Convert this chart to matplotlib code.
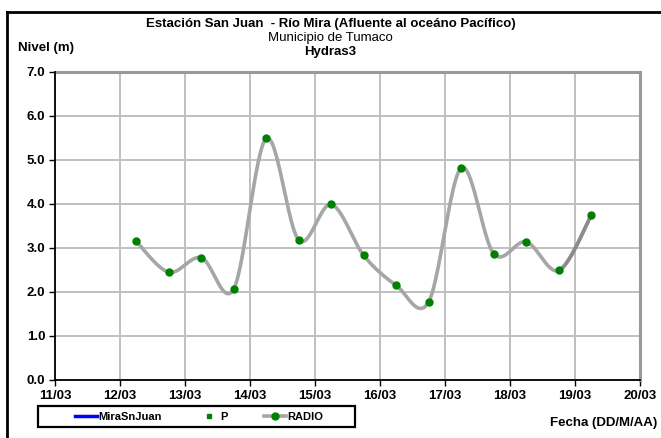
import numpy as np
import pandas as pd
import matplotlib
matplotlib.use('Agg')
import matplotlib.pyplot as plt
import matplotlib.dates as mdates
from matplotlib.patches import Rectangle
from matplotlib.lines import Line2D

plt.rcParams['font.family'] = ['Liberation Sans', 'DejaVu Sans']

# ---- data ----
fechas = ['2011-03-12 06:00', '2011-03-12 18:00', '2011-03-13 06:00', '2011-03-13 18:00',
          '2011-03-14 06:00', '2011-03-14 18:00', '2011-03-15 06:00', '2011-03-15 18:00',
          '2011-03-16 06:00', '2011-03-16 18:00', '2011-03-17 06:00', '2011-03-17 18:00',
          '2011-03-18 06:00', '2011-03-18 18:00', '2011-03-19 06:00']
nivel = [3.15, 2.45, 2.78, 2.07, 5.49, 3.18, 3.99, 2.83, 2.15, 1.78, 4.82, 2.87, 3.14, 2.49, 3.74]
mira_fechas = []   # MiraSnJuan: no data shown
mira_nivel = []

t = mdates.date2num(pd.to_datetime(fechas))
y = np.array(nivel)

def smooth(xp, yp, n=30):
    # excel style smoothed line (bezier through points)
    xs, ys = [], []
    m = len(xp)
    for i in range(m - 1):
        p0 = np.array([xp[i], yp[i]])
        p3 = np.array([xp[i+1], yp[i+1]])
        pm = np.array([xp[max(i-1, 0)], yp[max(i-1, 0)]])
        pp = np.array([xp[min(i+2, m-1)], yp[min(i+2, m-1)]])
        c1 = p0 + (p3 - pm) / 6.0
        c2 = p3 - (pp - p0) / 6.0
        s = np.linspace(0, 1, n)[:, None]
        b = (1-s)**3*p0 + 3*(1-s)**2*s*c1 + 3*(1-s)*s**2*c2 + s**3*p3
        xs.append(b[:, 0]); ys.append(b[:, 1])
    return np.concatenate(xs), np.concatenate(ys)

fig = plt.figure(figsize=(6.61, 4.38), dpi=100)
ax = fig.add_axes([55/661, 1-380/438, 585/661, 308/438])

xs, ys = smooth(t, y)
ax.plot(xs, ys, color='#a6a6a6', lw=2.6, zorder=3, solid_capstyle='round')
# last segment drawn darker
k = len(xs) // (len(t) - 1)
ax.plot(xs[-k:], ys[-k:], color='#8c8c8c', lw=2.6, zorder=3, solid_capstyle='round')
ax.plot(t, y, 'o', color='#008000', ms=5, zorder=4)
ax.plot(mira_fechas, mira_nivel, color='blue', lw=2.5)

x0 = mdates.date2num(pd.Timestamp('2011-03-11'))
ax.set_xlim(x0, x0 + 9)
ax.set_ylim(0, 7)
ax.xaxis.set_major_locator(mdates.DayLocator())
ax.xaxis.set_major_formatter(mdates.DateFormatter('%d/%m'))
ax.set_yticks(np.arange(0, 7.01, 1.0))
ax.set_yticklabels(['%.1f' % v for v in np.arange(0, 7.01, 1.0)])
ax.grid(True, color='#c0c0c0', lw=1.4)
ax.set_axisbelow(True)
for s in ['top', 'right']:
    ax.spines[s].set_color('#999999')
    ax.spines[s].set_linewidth(2.2)
for s in ['left', 'bottom']:
    ax.spines[s].set_color('black')
    ax.spines[s].set_linewidth(1.3)
    ax.spines[s].set_zorder(5)
ax.tick_params(direction='out', length=4, width=1, labelsize=9.5, pad=3)
for lab in ax.get_xticklabels() + ax.get_yticklabels():
    lab.set_fontweight('bold')

fig.text(0.5, 1-24/438, 'Estación San Juan  - Río Mira (Afluente al oceáno Pacífico)',
         ha='center', va='center', fontsize=9.5, fontweight='bold')
fig.text(0.5, 1-38/438, 'Municipio de Tumaco', ha='center', va='center', fontsize=9.5)
fig.text(0.5, 1-52/438, 'Hydras3', ha='center', va='center', fontsize=9.5, fontweight='bold')
fig.text(18/661, 1-48/438, 'Nivel (m)', ha='left', va='center', fontsize=9.5, fontweight='bold')
fig.text(657/661, 1-423/438, 'Fecha (DD/M/AA)', ha='right', va='center', fontsize=9.5, fontweight='bold')

handles = [Line2D([], [], color='blue', lw=2.5),
           Line2D([], [], color='#008000', marker='s', ms=3, ls='none'),
           Line2D([], [], color='#a6a6a6', lw=2.6, marker='o', mfc='#008000', mec='#008000', ms=5)]
leg = fig.legend(handles, ['MiraSnJuan', 'P', 'RADIO'], ncol=3, loc='center left',
                 bbox_to_anchor=(75/661, 1-417/438), frameon=False, borderpad=0,
                 borderaxespad=0, handlelength=2.0, handletextpad=0.1,
                 columnspacing=3.2, prop={'size': 8, 'weight': 'bold'})

# legend box
fig.patches.append(Rectangle((38/661, 1-427/438), 317/661, 21/438, transform=fig.transFigure,
                             fill=False, edgecolor='black', lw=1.6))
# outer frame (only top and left visible)
fig.add_artist(Line2D([7/661, 1], [1-12/438, 1-12/438], color='black', lw=2))
fig.add_artist(Line2D([7/661, 7/661], [0, 1-12/438], color='black', lw=2))

fig.savefig('out.png', dpi=100)
